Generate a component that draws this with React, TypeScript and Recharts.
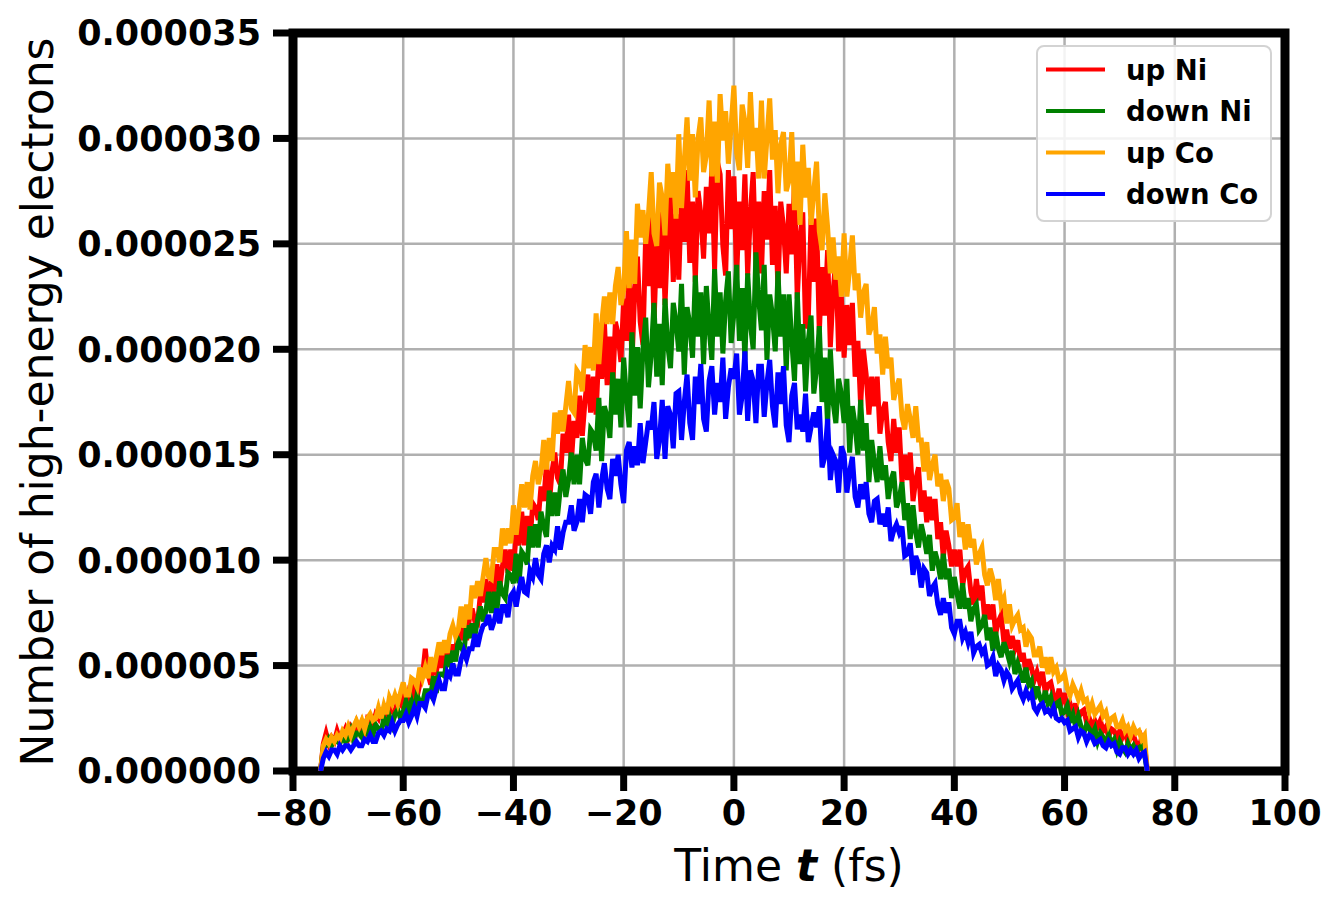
import React from 'react';
import { LineChart, Line, XAxis, YAxis, CartesianGrid, ReferenceArea, Legend, Label } from 'recharts';

// Time grid (fs), one sample every 0.5 fs from -75 to 75
const TIME_FS = Array.from({ length: 301 }, (_, i) => -75 + i * 0.5);

// Values in units of 1e-6
const UP_NI = [
  0, 1.3,
  1.8, 1.3, 1.6, 1.4, 1.9, 1.5, 1.7, 2.0,
  1.6, 2.1, 1.9, 2.3, 1.9, 2.3, 1.9, 2.5, 2.4, 2.2,
  2.7, 2.5, 3.0, 2.4, 2.9, 3.2, 2.8, 2.7, 3.4, 3.2,
  3.8, 3.0, 3.7, 3.4, 4.1, 3.5, 4.1, 4.5, 5.8, 4.6,
  4.1, 5.0, 4.7, 5.5, 4.9, 5.6, 5.0, 5.9, 5.9, 5.7,
  6.6, 6.2, 7.3, 6.2, 7.2, 7.7, 7.1, 7.0, 8.4, 8.0,
  9.1, 7.7, 9.0, 8.5, 9.8, 8.6, 9.7, 10.5, 9.4, 10.5,
  9.5, 11.3, 10.7, 12.3, 10.7, 12.1, 10.8, 12.7, 12.5, 11.9,
  13.5, 12.8, 14.6, 12.6, 14.2, 15.1, 13.9, 13.6, 16.0, 15.1,
  16.9, 14.6, 16.6, 15.8, 17.8, 15.9, 17.6, 18.8, 17.0, 18.7,
  16.9, 20.0, 18.6, 21.3, 18.3, 20.6, 18.0, 21.3, 20.7, 19.4,
  22.4, 20.4, 24.4, 19.3, 22.7, 24.4, 21.3, 20.2, 25.5, 23.0,
  26.6, 21.2, 25.0, 22.9, 26.7, 22.1, 25.4, 27.5, 23.2, 26.4,
  23.3, 27.3, 25.1, 28.5, 24.1, 27.0, 23.2, 27.5, 26.4, 24.3,
  27.7, 25.5, 28.6, 23.8, 28.9, 28.3, 24.9, 23.5, 28.5, 25.7,
  28.2, 23.4, 27.0, 24.7, 28.3, 23.5, 26.5, 28.4, 23.9, 27.0,
  23.6, 27.5, 25.2, 28.5, 24.0, 26.8, 22.8, 27.0, 25.8, 23.6,
  26.9, 24.5, 27.9, 22.4, 25.3, 26.5, 21.0, 21.4, 26.2, 23.2,
  26.2, 20.8, 23.9, 21.6, 24.7, 20.1, 22.7, 24.3, 19.9, 22.5,
  19.6, 22.1, 20.2, 22.2, 18.7, 20.4, 17.3, 20.0, 18.8, 16.9,
  18.7, 17.3, 18.7, 16.0, 17.1, 17.5, 15.6, 14.7, 16.7, 15.1,
  16.3, 13.7, 15.0, 13.8, 15.1, 12.8, 13.8, 14.4, 12.3, 13.3,
  11.8, 13.0, 11.9, 12.9, 11.0, 11.8, 10.1, 11.4, 10.7, 9.7,
  10.5, 9.7, 10.5, 8.8, 9.5, 9.7, 8.5, 7.9, 9.1, 8.1,
  8.8, 7.2, 7.9, 7.2, 7.9, 6.5, 7.1, 7.4, 6.1, 6.7,
  5.8, 6.4, 5.8, 6.2, 5.2, 5.6, 4.6, 5.3, 4.9, 4.3,
  4.7, 4.2, 4.7, 3.7, 4.1, 4.2, 3.6, 3.2, 3.9, 3.3,
  3.7, 2.9, 3.2, 2.8, 3.2, 2.5, 2.8, 2.9, 2.3, 2.5,
  2.1, 2.4, 2.1, 2.4, 1.9, 2.1, 1.6, 2.0, 1.9, 1.6,
  1.9, 1.6, 1.9, 1.3, 1.6, 1.7, 1.3, 1.1, 1.6, 1.3,
  0,
];

const DOWN_NI = [
  0, 1.1,
  1.2, 1.5, 1.2, 1.5, 1.4, 1.3, 1.7, 1.4,
  1.5, 1.9, 1.4, 1.8, 1.8, 1.6, 2.1, 1.8, 2.1, 1.7,
  2.2, 2.0, 1.9, 2.5, 2.2, 2.6, 2.2, 2.7, 2.9, 2.5,
  2.8, 3.3, 2.8, 3.3, 2.8, 3.6, 3.3, 3.2, 3.8, 3.8,
  3.6, 4.5, 3.7, 4.6, 4.6, 4.5, 5.5, 5.1, 5.7, 5.2,
  6.2, 5.9, 5.6, 6.9, 6.3, 7.0, 6.4, 7.2, 7.8, 7.1,
  7.6, 8.5, 7.5, 8.5, 7.6, 9.0, 8.4, 8.2, 9.4, 9.3,
  8.9, 10.3, 8.9, 10.4, 10.2, 9.8, 11.6, 10.6, 11.7, 10.6,
  12.3, 11.6, 11.1, 13.3, 12.1, 13.2, 12.1, 13.4, 14.3, 13.0,
  13.8, 15.1, 13.6, 15.0, 13.6, 15.8, 14.8, 14.5, 16.2, 16.0,
  15.2, 17.7, 14.7, 17.3, 16.8, 15.8, 18.9, 16.9, 18.6, 16.3,
  19.6, 17.7, 16.3, 20.8, 17.8, 20.1, 17.2, 20.0, 21.5, 18.2,
  19.8, 22.2, 18.7, 21.2, 18.3, 22.4, 20.2, 19.1, 22.2, 21.3,
  19.9, 23.1, 18.8, 22.0, 21.2, 19.6, 23.5, 20.6, 22.7, 19.3,
  23.0, 21.0, 19.5, 23.8, 20.6, 22.7, 19.8, 22.3, 23.7, 20.3,
  21.7, 24.0, 20.4, 22.9, 19.5, 23.6, 21.2, 20.0, 24.6, 22.4,
  20.9, 24.0, 19.5, 22.6, 21.6, 19.9, 23.7, 20.6, 22.6, 19.0,
  22.6, 20.4, 18.5, 22.7, 19.3, 21.2, 18.0, 20.4, 21.6, 17.9,
  19.1, 21.1, 17.5, 19.6, 16.4, 20.0, 17.5, 16.5, 18.6, 17.9,
  16.5, 18.6, 15.1, 17.3, 16.4, 15.0, 17.6, 15.2, 16.5, 13.7,
  15.7, 14.6, 13.7, 15.4, 13.8, 14.5, 12.9, 13.8, 14.2, 12.5,
  12.9, 13.7, 11.9, 12.7, 11.0, 12.6, 11.3, 10.6, 11.7, 11.1,
  10.3, 11.2, 9.5, 10.4, 9.9, 9.1, 10.3, 9.1, 9.6, 8.2,
  9.2, 8.4, 7.7, 8.9, 7.7, 8.2, 7.1, 7.7, 7.9, 6.7,
  6.9, 7.4, 6.2, 6.8, 5.7, 6.6, 5.8, 5.4, 6.1, 5.7,
  5.2, 5.7, 4.6, 5.1, 4.7, 4.2, 4.9, 4.1, 4.3, 3.4,
  4.0, 3.5, 3.2, 3.8, 3.2, 3.5, 2.8, 3.2, 3.3, 2.7,
  2.8, 3.1, 2.4, 2.7, 2.1, 2.6, 2.1, 1.8, 2.2, 2.0,
  1.7, 2.0, 1.4, 1.8, 1.6, 1.3, 1.7, 1.3, 1.5, 1.0,
  1.4, 1.1, 0.9, 1.3, 1.0, 1.2, 0.9, 1.1, 1.2, 0.8,
  0,
];

const UP_CO = [
  0, 1.2,
  1.5, 1.3, 1.6, 1.4, 1.7, 1.5, 1.9, 1.7,
  2.1, 1.7, 2.1, 2.4, 2.1, 2.4, 2.0, 2.5, 2.7, 2.4,
  2.5, 3.0, 2.5, 3.1, 2.7, 3.5, 3.2, 3.6, 3.2, 3.7,
  4.2, 3.6, 3.6, 4.4, 4.3, 4.0, 4.9, 4.4, 4.9, 4.4,
  5.4, 4.7, 5.4, 6.1, 5.5, 6.2, 5.6, 6.5, 6.9, 6.4,
  6.7, 7.8, 6.8, 7.9, 7.2, 8.8, 8.2, 9.0, 8.3, 9.2,
  10.1, 9.2, 9.1, 10.5, 10.5, 9.9, 11.5, 10.7, 11.5, 10.8,
  12.6, 11.2, 12.4, 13.6, 12.5, 13.7, 12.4, 14.0, 14.7, 13.6,
  14.2, 15.7, 14.3, 15.8, 14.7, 17.0, 16.0, 17.1, 16.1, 17.3,
  18.5, 17.2, 17.0, 19.0, 18.8, 18.0, 20.2, 19.1, 20.1, 19.0,
  21.7, 19.3, 21.2, 22.5, 21.2, 22.7, 21.2, 23.0, 23.9, 22.1,
  22.8, 25.6, 22.9, 25.2, 23.1, 26.9, 25.3, 26.6, 25.0, 26.4,
  28.4, 25.5, 24.9, 27.9, 27.2, 25.4, 28.8, 27.2, 28.4, 26.2,
  30.2, 26.7, 28.9, 31.0, 28.0, 30.2, 27.2, 30.0, 31.0, 28.4,
  29.2, 31.8, 28.2, 30.8, 27.9, 32.1, 29.9, 31.3, 28.8, 30.6,
  32.5, 29.3, 28.5, 31.6, 30.8, 28.6, 32.2, 29.4, 30.5, 28.1,
  31.8, 28.1, 30.0, 31.9, 29.0, 30.4, 27.4, 29.7, 30.3, 27.5,
  28.0, 30.3, 26.6, 28.9, 25.9, 29.7, 27.2, 28.6, 25.9, 27.5,
  28.9, 25.6, 24.7, 27.4, 25.8, 23.6, 25.3, 23.3, 24.4, 22.5,
  25.5, 22.5, 23.8, 25.4, 22.8, 23.6, 21.5, 22.7, 23.1, 20.7,
  21.1, 22.0, 19.8, 20.7, 18.8, 20.6, 19.1, 19.6, 17.6, 18.2,
  18.6, 16.8, 16.2, 17.4, 16.7, 15.8, 17.3, 15.7, 15.7, 14.2,
  15.6, 13.8, 14.5, 15.0, 13.5, 14.1, 12.8, 13.8, 13.4, 11.9,
  12.0, 12.7, 11.1, 11.8, 10.5, 11.7, 10.6, 11.0, 9.8, 10.3,
  10.6, 9.3, 8.8, 9.6, 9.1, 8.1, 9.1, 7.9, 8.2, 7.0,
  7.9, 6.9, 7.2, 7.4, 6.7, 6.8, 5.9, 6.5, 6.3, 5.5,
  5.5, 5.9, 4.9, 5.4, 4.6, 5.4, 4.7, 4.9, 4.3, 4.4,
  4.6, 3.9, 3.6, 4.1, 3.8, 3.4, 3.8, 3.3, 3.4, 2.8,
  3.2, 2.7, 2.9, 3.1, 2.6, 2.8, 2.2, 2.5, 2.6, 2.1,
  2.1, 2.4, 1.9, 2.1, 1.7, 2.1, 1.8, 1.9, 1.5, 1.7,
  0,
];

const DOWN_CO = [
  0, 0.6,
  0.9, 0.7, 1.0, 1.0, 0.8, 1.2, 1.0, 1.2,
  1.2, 1.0, 1.2, 1.4, 1.2, 1.2, 1.5, 1.4, 1.7, 1.4,
  1.4, 1.8, 1.9, 1.7, 2.0, 1.9, 2.3, 1.9, 2.2, 2.4,
  2.4, 2.7, 2.3, 2.6, 3.0, 2.6, 3.2, 3.2, 3.0, 3.6,
  3.7, 3.4, 3.9, 4.3, 3.9, 3.9, 4.7, 4.5, 5.1, 4.6,
  4.6, 5.3, 5.7, 5.3, 5.8, 5.8, 6.5, 5.9, 6.5, 6.9,
  7.0, 7.4, 6.7, 7.1, 7.7, 7.0, 7.8, 7.8, 7.3, 8.3,
  8.5, 7.8, 8.6, 9.2, 8.5, 8.4, 9.5, 9.2, 10.1, 9.3,
  9.1, 10.3, 10.7, 9.9, 10.7, 10.5, 11.6, 10.5, 11.3, 11.8,
  11.8, 12.6, 11.4, 11.8, 12.9, 11.8, 13.1, 13.0, 12.2, 13.7,
  14.1, 12.5, 13.8, 14.6, 13.4, 12.9, 14.8, 14.0, 15.0, 13.6,
  12.7, 15.2, 15.6, 14.4, 15.4, 14.5, 16.5, 14.6, 15.6, 16.6,
  16.2, 17.5, 14.8, 15.7, 17.6, 14.8, 17.3, 16.9, 15.3, 17.9,
  18.0, 15.7, 17.5, 18.8, 16.5, 15.7, 18.7, 17.4, 19.3, 16.7,
  16.1, 18.5, 19.2, 16.9, 18.4, 17.5, 19.6, 16.7, 18.2, 19.1,
  18.6, 19.8, 16.9, 17.8, 19.9, 16.6, 19.0, 18.5, 16.5, 19.2,
  19.2, 16.8, 18.4, 19.5, 17.3, 16.3, 18.9, 17.4, 19.2, 16.4,
  15.6, 17.8, 18.4, 16.2, 16.9, 16.1, 17.9, 15.6, 16.3, 17.0,
  16.3, 17.3, 14.4, 14.9, 16.7, 13.8, 15.0, 14.7, 13.2, 15.4,
  15.0, 13.2, 14.2, 14.9, 13.0, 12.5, 13.6, 12.9, 13.7, 12.2,
  11.8, 12.8, 12.9, 11.7, 12.2, 11.6, 12.5, 10.9, 11.4, 11.7,
  11.3, 11.6, 10.2, 10.3, 10.8, 9.3, 10.2, 9.8, 8.7, 9.6,
  9.4, 8.3, 8.7, 8.9, 7.9, 7.4, 8.2, 7.5, 8.0, 6.8,
  6.5, 7.1, 7.1, 6.3, 6.6, 6.1, 6.6, 5.6, 5.9, 6.0,
  5.6, 5.8, 5.0, 5.1, 5.4, 4.5, 5.0, 4.8, 4.3, 4.7,
  4.5, 3.9, 4.1, 4.3, 3.7, 3.4, 3.8, 3.5, 3.7, 3.0,
  2.8, 3.1, 3.2, 2.8, 2.9, 2.7, 3.0, 2.5, 2.4, 2.5,
  2.3, 2.4, 1.9, 2.0, 2.1, 1.6, 1.9, 1.8, 1.4, 1.7,
  1.6, 1.3, 1.4, 1.5, 1.2, 1.1, 1.4, 1.2, 1.3, 0.9,
  0.8, 1.1, 1.1, 0.8, 1.0, 0.8, 1.0, 0.6, 0.8, 0.9,
  0,
];

const UNIT = 1e-6;
const X_TICKS = [-80, -60, -40, -20, 0, 20, 40, 60, 80, 100];
const Y_TICKS = [0, 0.000005, 0.00001, 0.000015, 0.00002, 0.000025, 0.00003, 0.000035];
const X_DOMAIN = [-80, 100];
const Y_DOMAIN = [0, 0.000035];

const SERIES = [
  { key: 'upNi', name: 'up Ni', color: '#ff0000', values: UP_NI },
  { key: 'downNi', name: 'down Ni', color: '#008000', values: DOWN_NI },
  { key: 'upCo', name: 'up Co', color: '#ffa500', values: UP_CO },
  { key: 'downCo', name: 'down Co', color: '#0000ff', values: DOWN_CO },
];

const DATA = TIME_FS.map((t, i) => {
  const row: Record<string, number> = { t };
  SERIES.forEach((s) => {
    row[s.key] = s.values[i] * UNIT;
  });
  return row;
});

const FONT = "'DejaVu Sans', Verdana, sans-serif";

const fmtX = (v: number) => (v < 0 ? '\u2212' + Math.abs(v) : String(v));
const fmtY = (v: number) => v.toFixed(6);

const XLabelContent = () => (
  <text x={789} y={881} textAnchor="middle" fontFamily={FONT} fontSize={44} fill="#000">
    Time <tspan fontWeight="bold" fontStyle="italic">t</tspan> (fs)
  </text>
);

const YLabelContent = () => (
  <text
    x={53}
    y={402}
    textAnchor="middle"
    fontFamily={FONT}
    fontSize={44}
    fill="#000"
    transform="rotate(-90 53 402)"
  >
    Number of high-energy electrons
  </text>
);

const LegendBox = () => {
  const rowY = [24.5, 66, 107.5, 149];
  return (
    <svg width={237} height={178} style={{ display: 'block' }}>
      <rect x={1} y={1} width={234} height={175} rx={7} ry={7} fill="rgba(255,255,255,0.85)" stroke="#d3d3d3" strokeWidth={2} />
      {SERIES.map((s, i) => (
        <g key={s.key}>
          <line x1={10} x2={69} y1={rowY[i]} y2={rowY[i]} stroke={s.color} strokeWidth={4} />
          <text
            x={90}
            y={rowY[i]}
            dominantBaseline="central"
            fontFamily={FONT}
            fontWeight="bold"
            fontSize={27.5}
            fill="#000"
          >
            {s.name}
          </text>
        </g>
      ))}
    </svg>
  );
};

export default function App() {
  return (
    <div style={{ position: 'absolute', left: 0, top: 0, width: 1342, height: 909, background: '#fff' }}>
      <LineChart
        width={1342}
        height={909}
        data={DATA}
        margin={{ top: 33, right: 57, bottom: 0, left: 0 }}
      >
        <CartesianGrid stroke="#b0b0b0" strokeWidth={2.5} />
        <XAxis
          type="number"
          dataKey="t"
          domain={X_DOMAIN}
          ticks={X_TICKS}
          interval={0}
          height={138}
          tickSize={20}
          tickMargin={9}
          axisLine={false}
          tickLine={{ stroke: '#000', strokeWidth: 7 }}
          tick={{ fill: '#000', fontSize: 35, fontWeight: 'bold', fontFamily: FONT }}
          tickFormatter={fmtX}
          allowDataOverflow
        >
          <Label content={XLabelContent} />
        </XAxis>
        <YAxis
          type="number"
          domain={Y_DOMAIN}
          ticks={Y_TICKS}
          interval={0}
          width={293}
          tickSize={20}
          tickMargin={12}
          axisLine={false}
          tickLine={{ stroke: '#000', strokeWidth: 7 }}
          tick={{ fill: '#000', fontSize: 35, fontWeight: 'bold', fontFamily: FONT }}
          tickFormatter={fmtY}
          allowDataOverflow
        >
          <Label content={YLabelContent} />
        </YAxis>
        {SERIES.map((s) => (
          <Line
            key={s.key}
            type="linear"
            dataKey={s.key}
            name={s.name}
            stroke={s.color}
            strokeWidth={5}
            dot={false}
            activeDot={false}
            isAnimationActive={false}
          />
        ))}
        <ReferenceArea
          x1={X_DOMAIN[0]}
          x2={X_DOMAIN[1]}
          y1={Y_DOMAIN[0]}
          y2={Y_DOMAIN[1]}
          fill="none"
          fillOpacity={0}
          stroke="#000"
          strokeWidth={9}
          ifOverflow="visible"
        />
        <Legend
          layout="horizontal"
          verticalAlign="middle"
          align="center"
          content={LegendBox}
          wrapperStyle={{ position: 'absolute', left: 1036, top: 45, width: 237, height: 178 }}
        />
      </LineChart>
    </div>
  );
}
